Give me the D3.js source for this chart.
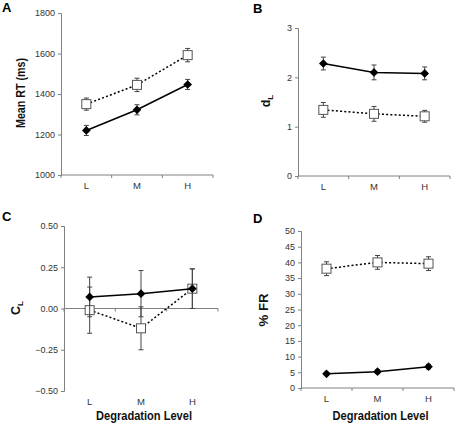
<!DOCTYPE html>
<html><head><meta charset="utf-8">
<script src="https://cdn.jsdelivr.net/npm/d3@7"></script>
<style>
body{margin:0;background:#fff;}
text{font-family:"Liberation Sans",Arial,sans-serif;}
</style></head><body>
<svg id="c" width="455" height="426"></svg>
<script>
const categories = ["L","M","H"];
// Panel A: Mean RT (ms)
const rtFilled = [1220, 1322, 1447];
const rtFilledErr = [25, 25, 25];
const rtOpen = [1350, 1445, 1592];
const rtOpenErr = [30, 33, 33];
const rtTicks = [1000, 1200, 1400, 1600, 1800];
// Panel B: dL
const dFilled = [2.28, 2.10, 2.08];
const dFilledErr = [0.13, 0.15, 0.13];
const dOpen = [1.34, 1.26, 1.21];
const dOpenErr = [0.15, 0.15, 0.12];
const dTicks = [0, 1, 2, 3];
// Panel C: CL
const cFilled = [0.07, 0.09, 0.12];
const cFilledErr = [0.12, 0.14, 0.12];
const cOpen = [-0.01, -0.12, 0.12];
const cOpenErr = [0.14, 0.13, 0.12];
const cTicks = [-0.5, -0.25, 0, 0.25, 0.5];
// Panel D: % FR
const frFilled = [4.5, 5.2, 6.8];
const frFilledErr = [0.5, 0.6, 0.7];
const frOpen = [38.0, 40.0, 39.6];
const frOpenErr = [2.2, 2.2, 2.2];
const frTicks = [0,5,10,15,20,25,30,35,40,45,50];

const svg = d3.select("#c");
const AX = "#808080", TXT = "#333";

function panel(o){
  const g = svg.append("g");
  const x = d3.scaleBand().domain(categories).range([o.x0, o.x1]);
  const y = d3.scaleLinear().domain(o.domain).range([o.yb, o.yt]);
  const cx = c => x(c) + x.bandwidth()/2;
  // y axis
  const ya = g.append("g").attr("transform",`translate(${o.x0},0)`)
    .call(d3.axisLeft(y).tickValues(o.ticks).tickSize(3).tickPadding(3).tickFormat(o.fmt));
  ya.select(".domain").attr("stroke",AX);
  ya.selectAll(".tick line").attr("stroke",AX);
  ya.selectAll(".tick text").attr("fill",TXT).style("font-size","9px").style("font-family","'Liberation Sans',Arial,sans-serif");
  // x axis
  const xaY = y(o.xAxisAt);
  g.append("line").attr("x1",o.x0).attr("x2",o.x1).attr("y1",xaY).attr("y2",xaY).attr("stroke",AX);
  const tickXs = [0,1,2,3].map(i=> o.x0 + i*x.step());
  g.selectAll(".xt").data(tickXs).join("line").attr("x1",d=>d).attr("x2",d=>d)
    .attr("y1",xaY).attr("y2",xaY+3).attr("stroke",AX);
  g.selectAll(".xl").data(categories).join("text").attr("x",cx).attr("y",o.yb+14)
    .attr("text-anchor","middle").attr("fill",TXT).style("font-size","9.5px")
    .text(d=>d);
  // series
  const series = [
    {v:o.open, e:o.openErr, dash:"2,2.2", open:true},
    {v:o.filled, e:o.filledErr, dash:null, open:false}
  ];
  series.forEach(s=>{
    const pts = categories.map((c,i)=>({c, v:s.v[i], e:s.e[i]}));
    pts.forEach(p=>{
      const X = cx(p.c);
      g.append("line").attr("x1",X).attr("x2",X).attr("y1",y(p.v-p.e)).attr("y2",y(p.v+p.e)).attr("stroke","#444").attr("stroke-width",1);
      [p.v-p.e,p.v+p.e].forEach(v=>g.append("line").attr("x1",X-2.5).attr("x2",X+2.5).attr("y1",y(v)).attr("y2",y(v)).attr("stroke","#444").attr("stroke-width",1));
    });
    g.append("path").datum(pts).attr("fill","none").attr("stroke","#000").attr("stroke-width",1.5)
      .attr("stroke-dasharray",s.dash)
      .attr("d",d3.line().x(p=>cx(p.c)).y(p=>y(p.v)));
    pts.forEach(p=>{
      const X = cx(p.c), Y = y(p.v);
      if(s.open){
        g.append("rect").attr("x",X-4.5).attr("y",Y-4.5).attr("width",9).attr("height",9)
          .attr("fill","#fff").attr("stroke","#555").attr("stroke-width",1);
      } else {
        g.append("path").attr("transform",`translate(${X},${Y})`)
          .attr("d",d3.symbol(d3.symbolDiamond2 || d3.symbolDiamond, 48)()).attr("fill","#000");
      }
    });
  });
  // panel letter
  g.append("text").attr("x",o.lx).attr("y",o.ly)
    .style("font-weight","bold").style("font-size","13px").text(o.letter);
  // y title
  const t = g.append("text").attr("transform",`translate(${o.tx},${o.ty}) rotate(-90)`)
    .attr("text-anchor","middle").style("font-weight","bold").style("font-size","12.5px").attr("fill","#111");
  const ts = t.append("tspan").text(o.title);
  if(o.tlen) t.attr("textLength",o.tlen).attr("lengthAdjust","spacingAndGlyphs");
  if(o.sub) t.append("tspan").attr("dy",3).style("font-size","8px").text(o.sub);
  if(o.xtitle){
    g.append("text").attr("x",(o.x0+o.x1)/2+3).attr("y",420).attr("text-anchor","middle")
      .attr("textLength",96).attr("lengthAdjust","spacingAndGlyphs")
      .style("font-weight","bold").style("font-size","12.5px").attr("fill","#111").text(o.xtitle);
  }
}

panel({x0:61,x1:213,yt:13,yb:175,domain:[1000,1800],ticks:rtTicks,fmt:d3.format("d"),xAxisAt:1000,
  filled:rtFilled,filledErr:rtFilledErr,open:rtOpen,openErr:rtOpenErr,
  letter:"A",lx:2,ly:12,title:"Mean RT (ms)",tlen:70,tx:25,ty:93});
panel({x0:298,x1:450,yt:28,yb:176,domain:[0,3],ticks:dTicks,fmt:d3.format("d"),xAxisAt:0,
  filled:dFilled,filledErr:dFilledErr,open:dOpen,openErr:dOpenErr,
  letter:"B",lx:253,ly:13,title:"d",sub:"L",tx:270,ty:101});
panel({x0:64,x1:218,yt:226,yb:391,domain:[-0.5,0.5],ticks:cTicks,fmt:d3.format(".2f"),xAxisAt:0,
  filled:cFilled,filledErr:cFilledErr,open:cOpen,openErr:cOpenErr,
  letter:"C",lx:2,ly:221,title:"C",sub:"L",tx:20,ty:308,xtitle:"Degradation Level"});
panel({x0:301,x1:454,yt:231,yb:388,domain:[0,50],ticks:frTicks,fmt:d3.format("d"),xAxisAt:0,
  filled:frFilled,filledErr:frFilledErr,open:frOpen,openErr:frOpenErr,
  letter:"D",lx:253,ly:223,title:"% FR",tlen:33,tx:268,ty:310,xtitle:"Degradation Level"});
</script></body></html>
